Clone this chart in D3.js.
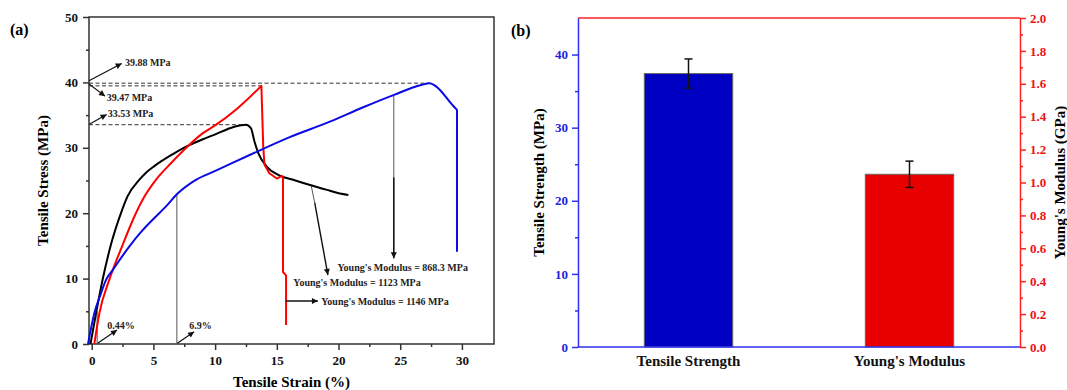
<!DOCTYPE html>
<html>
<head>
<meta charset="utf-8">
<script src="https://cdn.jsdelivr.net/npm/d3@7"></script>
<style>
  body { margin: 0; background: #fff; }
  text { font-family: "Liberation Serif", "Times New Roman", serif; font-weight: bold; }
</style>
</head>
<body>
<div class="chart"></div>
<script>
// ---- data: panel (a) stress-strain curves [strain %, stress MPa]
var blackCurve = [[-0.1,0],[0.35,4.7],[0.89,9.9],[1.56,15.2],[2.37,20.0],[2.91,22.6],[3.85,25.1],
  [4.4,26.2],[5.07,27.2],[6.55,29.0],[7.9,30.4],[9.0,31.3],[10.06,32.1],[11.2,33.0],[12.0,33.4],[12.5,33.53],
  [12.9,33.0],[13.2,30.9],[13.5,29.2],[14.2,27.1],[15.2,25.8],[16.5,25.0],[17.7,24.3],[19.0,23.6],
  [20.1,23.0],[20.8,22.8]];
var redCurve = [[0.21,0],[0.62,4.7],[1.42,9.8],[2.45,14.9],[3.58,20.0],[4.26,22.5],[5.2,25.1],
  [6.4,27.6],[7.77,30.2],[8.98,32.2],[10.06,33.5],[11.73,35.9],[13.75,39.47],[13.9,30.2],
  [14.0,27.4],[14.4,26.1],[15.0,25.3],[15.4,25.7],[15.5,25.5],[15.5,11.0],[15.75,10.5],[15.75,2.9]];
var blueCurve = [[-0.3,0],[0.21,4.7],[0.75,7.75],[1.16,9.8],[1.7,11.3],[3.04,14.9],[4.13,17.4],
  [4.94,19.0],[6.0,21.0],[6.96,23.0],[8.44,25.1],[10.06,26.5],[12.8,28.9],[16.0,31.6],[19.3,34.0],
  [22.0,36.2],[24.5,38.1],[26.7,39.6],[27.4,39.88],[27.9,39.4],[29.25,36.5],[29.6,35.8],[29.6,14.1]];
// index where each curve stops being smooth (after it, straight segments)
var smoothEnd = [25, 12, 21];
var peakValues = [39.88, 39.47, 33.53];
var peakStrains = [27.4, 13.75, 12.5];
var strainTicks = [0, 5, 10, 15, 20, 25, 30];
var stressTicks = [0, 10, 20, 30, 40, 50];

// ---- data: panel (b) bars
var categories = ["Tensile Strength", "Young's Modulus"];
var barValues = [37.4, 1.05];      // MPa, GPa
var barErrors = [2.0, 0.08];
var leftTicks = [0, 10, 20, 30, 40];
var rightTicks = d3.range(0, 2.01, 0.2);

var svgWidth = 1067, svgHeight = 390;
var svg = d3.select(".chart").append("svg")
  .attr("width", svgWidth)
  .attr("height", svgHeight);

var defs = svg.append("defs");
defs.append("marker")
  .attr("id", "arrow")
  .attr("viewBox", "0 0 10 10")
  .attr("refX", 10).attr("refY", 5)
  .attr("markerUnits", "userSpaceOnUse")
  .attr("markerWidth", 9).attr("markerHeight", 6)
  .attr("orient", "auto")
  .append("path")
  .attr("d", "M0,0 L10,5 L0,10 z")
  .attr("fill", "#111");

// ================= panel (a) =================
var a = { left: 89, right: 494, top: 17, bottom: 344 };
var x = d3.scaleLinear().domain([-0.22, 32.6]).range([a.left, a.right]);
var y = d3.scaleLinear().domain([0, 50]).range([a.bottom, a.top]);

var gA = svg.append("g");

// frame
gA.append("rect")
  .attr("x", a.left).attr("y", a.top)
  .attr("width", a.right - a.left).attr("height", a.bottom - a.top)
  .attr("fill", "none").attr("stroke", "#333").attr("stroke-width", 1.5);

// axes
var xAxis = gA.append("g")
  .attr("transform", `translate(0, ${a.bottom})`)
  .call(d3.axisBottom(x).tickValues(strainTicks).tickSize(6).tickPadding(6).tickFormat(d3.format("d")));
var xMinor = gA.append("g")
  .attr("transform", `translate(0, ${a.bottom})`)
  .call(d3.axisBottom(x).tickValues(d3.range(2.5, 32, 5)).tickSize(3).tickFormat(""));
var yAxis = gA.append("g")
  .attr("transform", `translate(${a.left}, 0)`)
  .call(d3.axisLeft(y).tickValues(stressTicks).tickSize(6).tickPadding(5));
var yMinor = gA.append("g")
  .attr("transform", `translate(${a.left}, 0)`)
  .call(d3.axisLeft(y).tickValues(d3.range(5, 50, 10)).tickSize(3).tickFormat(""));
[xAxis, xMinor, yAxis, yMinor].forEach(function(g) {
  g.select(".domain").remove();
  g.selectAll("line").attr("stroke", "#333").attr("stroke-width", 1.5);
  g.selectAll("text").attr("font-size", 13).attr("fill", "#111");
});

// dashed peak lines
gA.selectAll(".peak")
  .data(peakValues)
  .enter()
  .append("line")
  .attr("x1", a.left)
  .attr("x2", (d, i) => x(peakStrains[i]))
  .attr("y1", d => y(d))
  .attr("y2", d => y(d))
  .attr("stroke", "#333")
  .attr("stroke-width", 1)
  .attr("stroke-dasharray", "4,2.5");

// thin guide lines
var guides = [
  [[0.44, 0], [0.44, 5.0]],
  [[6.9, 0], [6.9, 23.0]],
  [[24.48, 38.1], [24.48, 25.5]],
  [[17.78, 24.3], [18.07, 21.6]]
];
var line = d3.line().x(d => x(d[0])).y(d => y(d[1]));
var smoothLine = d3.line().x(d => x(d[0])).y(d => y(d[1])).curve(d3.curveMonotoneX);
gA.selectAll(".guide")
  .data(guides)
  .enter()
  .append("path")
  .attr("d", line)
  .attr("fill", "none")
  .attr("stroke", "#555")
  .attr("stroke-width", 1);

// curves: smooth part + straight tail
var curves = [
  { data: blackCurve, color: "#000" },
  { data: redCurve, color: "#ff0000" },
  { data: blueCurve, color: "#0a0ae6" }
];
gA.selectAll(".curve")
  .data(curves)
  .enter()
  .append("path")
  .attr("d", function(d, i) {
    var head = smoothLine(d.data.slice(0, smoothEnd[i] + 1));
    var tail = d.data.slice(smoothEnd[i]);
    return tail.length > 1 ? head + line(tail).replace("M", "L") : head;
  })
  .attr("fill", "none")
  .attr("stroke", d => d.color)
  .attr("stroke-width", 2)
  .attr("stroke-linejoin", "round");

// arrows
var arrows = [
  { from: [-0.22, 40.25], to: [2.43, 42.9], w: 1.2 },
  { from: [-0.22, 39.76], to: [1.08, 37.9], w: 1.2 },
  { from: [-0.19, 33.6], to: [1.21, 35.1], w: 1.2 },
  { from: [0.48, 0.1], to: [2.05, 2.14], w: 1.2 },
  { from: [6.94, 0.1], to: [8.3, 1.88], w: 1.2 },
  { from: [24.48, 25.5], to: [24.48, 13.1], w: 1.6 },
  { from: [18.07, 21.6], to: [19.14, 10.55], w: 1.4 },
  { from: [15.72, 6.57], to: [18.33, 6.57], w: 1.4 }
];
gA.selectAll(".arrow")
  .data(arrows)
  .enter()
  .append("line")
  .attr("x1", d => x(d.from[0]))
  .attr("y1", d => y(d.from[1]))
  .attr("x2", d => x(d.to[0]))
  .attr("y2", d => y(d.to[1]))
  .attr("stroke", "#111")
  .attr("stroke-width", d => d.w)
  .attr("marker-end", "url(#arrow)");

// annotation labels
var notes = [
  { t: "39.88 MPa", p: [2.7, 43.1], anchor: "start" },
  { t: "39.47 MPa", p: [1.21, 37.66], anchor: "start" },
  { t: "33.53 MPa", p: [1.3, 35.3], anchor: "start" },
  { t: "0.44%", p: [1.26, 2.8], anchor: "start" },
  { t: "6.9%", p: [7.9, 2.8], anchor: "start" },
  { t: "Young's Modulus = 868.3 MPa", p: [25.2, 11.7], anchor: "middle" },
  { t: "Young's Modulus = 1123 MPa", p: [21.5, 9.37], anchor: "middle" },
  { t: "Young's Modulus = 1146 MPa", p: [18.6, 6.57], anchor: "start" }
];
gA.selectAll(".note")
  .data(notes)
  .enter()
  .append("text")
  .attr("x", d => x(d.p[0]))
  .attr("y", d => y(d.p[1]))
  .attr("dy", "0.35em")
  .attr("text-anchor", d => d.anchor)
  .attr("font-size", 10)
  .attr("fill", "#222")
  .text(d => d.t);

// axis titles
gA.append("text")
  .attr("x", (a.left + a.right) / 2)
  .attr("y", 387)
  .attr("text-anchor", "middle")
  .attr("font-size", 15)
  .text("Tensile Strain (%)");
gA.append("text")
  .attr("transform", "rotate(-90)")
  .attr("x", -(a.top + a.bottom) / 2)
  .attr("y", 48)
  .attr("text-anchor", "middle")
  .attr("font-size", 15)
  .text("Tensile Stress (MPa)");
gA.append("text")
  .attr("x", 10).attr("y", 35)
  .attr("font-size", 16)
  .text("(a)");

// ================= panel (b) =================
var b = { left: 578, right: 1020, top: 18, bottom: 347 };
var xB = d3.scaleBand()
  .domain(categories)
  .range([b.left, b.right])
  .paddingInner(0.6)
  .paddingOuter(0.3);
var yL = d3.scaleLinear().domain([0, 45]).range([b.bottom, b.top]);
var yR = d3.scaleLinear().domain([0, 2]).range([b.bottom, b.top]);
var scales = [yL, yR];
var barColors = ["#0000c2", "#e80000"];
var blueAxis = "#3030f0", redAxis = "#ff2020";

var gB = svg.append("g");

gB.selectAll(".bar")
  .data(categories)
  .enter()
  .append("rect")
  .attr("x", d => xB(d))
  .attr("width", xB.bandwidth())
  .attr("y", (d, i) => scales[i](barValues[i]))
  .attr("height", (d, i) => b.bottom - scales[i](barValues[i]))
  .attr("fill", (d, i) => barColors[i])
  .attr("stroke", "#666")
  .attr("stroke-width", 1);

// error bars
var errG = gB.selectAll(".err")
  .data(categories)
  .enter()
  .append("g")
  .attr("stroke", "#111")
  .attr("stroke-width", 1.5);
errG.append("line")
  .attr("x1", d => xB(d) + xB.bandwidth() / 2)
  .attr("x2", d => xB(d) + xB.bandwidth() / 2)
  .attr("y1", (d, i) => scales[i](barValues[i] + barErrors[i]))
  .attr("y2", (d, i) => scales[i](barValues[i] - barErrors[i]));
[1, -1].forEach(function(s) {
  errG.append("line")
    .attr("x1", d => xB(d) + xB.bandwidth() / 2 - 4)
    .attr("x2", d => xB(d) + xB.bandwidth() / 2 + 4)
    .attr("y1", (d, i) => scales[i](barValues[i] + s * barErrors[i]))
    .attr("y2", (d, i) => scales[i](barValues[i] + s * barErrors[i]));
});

// frame lines
gB.append("line").attr("x1", b.left).attr("x2", b.right).attr("y1", b.top).attr("y2", b.top)
  .attr("stroke", redAxis).attr("stroke-width", 1.5);
gB.append("line").attr("x1", b.left).attr("x2", b.right).attr("y1", b.bottom).attr("y2", b.bottom)
  .attr("stroke", blueAxis).attr("stroke-width", 1.5);

function styleAxis(g, color, textColor) {
  g.select(".domain").attr("stroke", color).attr("stroke-width", 1.5);
  g.selectAll("line").attr("stroke", color).attr("stroke-width", 1.5);
  g.selectAll("text").attr("font-size", 13).attr("fill", textColor);
}

var leftAxis = gB.append("g")
  .attr("transform", `translate(${b.left}, 0)`)
  .call(d3.axisLeft(yL).tickValues(leftTicks).tickSize(6).tickSizeOuter(0).tickPadding(4));
styleAxis(leftAxis, blueAxis, "#2222dd");
var leftMinor = gB.append("g")
  .attr("transform", `translate(${b.left}, 0)`)
  .call(d3.axisLeft(yL).tickValues(d3.range(5, 45, 10)).tickSize(3).tickFormat(""));
leftMinor.select(".domain").remove();
styleAxis(leftMinor, blueAxis, "#2222dd");

var rightAxis = gB.append("g")
  .attr("transform", `translate(${b.right}, 0)`)
  .call(d3.axisRight(yR).tickValues(rightTicks).tickSize(6).tickSizeOuter(0).tickPadding(4).tickFormat(d3.format(".1f")));
styleAxis(rightAxis, redAxis, "#ee1111");
var rightMinor = gB.append("g")
  .attr("transform", `translate(${b.right}, 0)`)
  .call(d3.axisRight(yR).tickValues(d3.range(0.1, 2, 0.2)).tickSize(3).tickFormat(""));
rightMinor.select(".domain").remove();
styleAxis(rightMinor, redAxis, "#ee1111");

// category labels
gB.selectAll(".cat")
  .data(categories)
  .enter()
  .append("text")
  .attr("x", d => xB(d) + xB.bandwidth() / 2)
  .attr("y", 366)
  .attr("text-anchor", "middle")
  .attr("font-size", 15)
  .attr("fill", "#111")
  .text(d => d);

gB.append("text")
  .attr("transform", "rotate(-90)")
  .attr("x", -(b.top + b.bottom) / 2)
  .attr("y", 544)
  .attr("text-anchor", "middle")
  .attr("font-size", 15)
  .text("Tensile Strength (MPa)");
gB.append("text")
  .attr("transform", "rotate(-90)")
  .attr("x", -(b.top + b.bottom) / 2)
  .attr("y", 1065)
  .attr("text-anchor", "middle")
  .attr("font-size", 15)
  .text("Young's Modulus (GPa)");
gB.append("text")
  .attr("x", 511).attr("y", 36)
  .attr("font-size", 16)
  .text("(b)");
</script>
</body>
</html>
